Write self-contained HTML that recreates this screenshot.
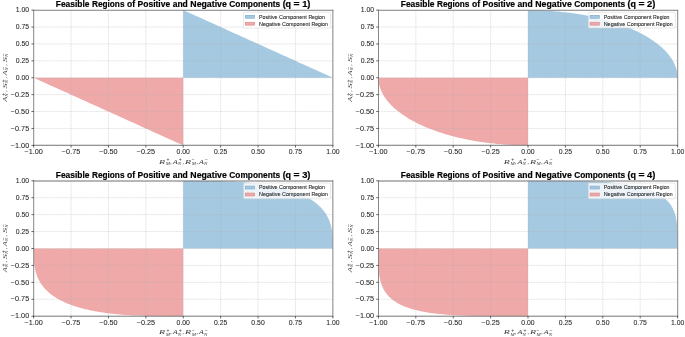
<!DOCTYPE html>
<html><head><meta charset="utf-8"><style>
html,body{margin:0;padding:0;background:#fff;width:685px;height:337px;overflow:hidden;}
svg{display:block;will-change:transform;}
</style></head><body>
<svg width="685" height="337" viewBox="0 0 685 337"><rect width="685" height="337" fill="#fff"/><polygon points="183.2,77.8 183.2,10.2 183.3,10.2 183.4,10.2 183.7,10.3 184.0,10.5 184.4,10.7 184.9,10.9 185.5,11.2 186.1,11.5 186.9,11.8 187.8,12.2 188.7,12.6 189.7,13.1 190.8,13.6 192.0,14.1 193.3,14.7 194.6,15.3 196.0,15.9 197.5,16.6 199.1,17.3 200.7,18.1 202.5,18.8 204.2,19.6 206.1,20.5 208.0,21.3 210.0,22.2 212.0,23.1 214.1,24.1 216.2,25.0 218.4,26.0 220.7,27.0 222.9,28.1 225.3,29.1 227.6,30.2 230.0,31.3 232.5,32.4 234.9,33.5 237.4,34.6 240.0,35.8 242.5,36.9 245.1,38.1 247.6,39.2 250.2,40.4 252.8,41.6 255.4,42.8 258.1,43.9 260.7,45.1 263.3,46.3 265.9,47.5 268.5,48.7 271.0,49.8 273.6,51.0 276.1,52.1 278.7,53.3 281.2,54.4 283.6,55.5 286.1,56.6 288.5,57.7 290.8,58.8 293.2,59.8 295.4,60.8 297.7,61.9 299.9,62.9 302.0,63.8 304.1,64.8 306.1,65.7 308.1,66.6 310.0,67.4 311.9,68.3 313.6,69.1 315.4,69.8 317.0,70.6 318.6,71.3 320.1,72.0 321.5,72.6 322.8,73.2 324.1,73.8 325.3,74.3 326.4,74.8 327.4,75.3 328.3,75.7 329.2,76.1 330.0,76.4 330.6,76.7 331.2,77.0 331.7,77.2 332.1,77.4 332.4,77.6 332.7,77.7 332.8,77.7 332.9,77.8" fill="#a5c9e1"/><polygon points="183.2,77.8 183.2,145.3 183.2,145.3 183.1,145.3 182.8,145.2 182.5,145.0 182.1,144.8 181.6,144.6 181.0,144.3 180.4,144.0 179.6,143.7 178.7,143.3 177.8,142.9 176.8,142.4 175.7,141.9 174.5,141.4 173.2,140.8 171.9,140.2 170.5,139.6 169.0,138.9 167.4,138.2 165.8,137.4 164.0,136.7 162.3,135.9 160.4,135.0 158.5,134.2 156.5,133.3 154.5,132.4 152.4,131.4 150.3,130.5 148.1,129.5 145.8,128.4 143.6,127.4 141.2,126.4 138.9,125.3 136.5,124.2 134.0,123.1 131.6,122.0 129.1,120.9 126.5,119.7 124.0,118.6 121.4,117.4 118.9,116.3 116.3,115.1 113.7,113.9 111.1,112.7 108.5,111.6 105.8,110.4 103.2,109.2 100.6,108.0 98.0,106.8 95.5,105.7 92.9,104.5 90.4,103.4 87.8,102.2 85.3,101.1 82.9,100.0 80.4,98.9 78.0,97.8 75.7,96.7 73.3,95.7 71.0,94.7 68.8,93.6 66.6,92.6 64.5,91.7 62.4,90.7 60.4,89.8 58.4,88.9 56.5,88.1 54.6,87.2 52.9,86.4 51.1,85.7 49.5,84.9 47.9,84.2 46.4,83.5 45.0,82.9 43.7,82.3 42.4,81.7 41.2,81.2 40.1,80.7 39.1,80.2 38.2,79.8 37.3,79.4 36.5,79.1 35.9,78.8 35.3,78.5 34.8,78.3 34.4,78.1 34.1,77.9 33.8,77.8 33.7,77.8 33.6,77.8" fill="#efa9a9"/><g stroke="#b0b0b0" stroke-opacity="0.7" stroke-width="0.5" stroke-dasharray="1.7,0.8"><line x1="33.65" y1="10.15" x2="33.65" y2="145.35"/><line x1="33.65" y1="145.35" x2="332.85" y2="145.35"/><line x1="71.05" y1="10.15" x2="71.05" y2="145.35"/><line x1="33.65" y1="128.45" x2="332.85" y2="128.45"/><line x1="108.45" y1="10.15" x2="108.45" y2="145.35"/><line x1="33.65" y1="111.55" x2="332.85" y2="111.55"/><line x1="145.85" y1="10.15" x2="145.85" y2="145.35"/><line x1="33.65" y1="94.65" x2="332.85" y2="94.65"/><line x1="183.25" y1="10.15" x2="183.25" y2="145.35"/><line x1="33.65" y1="77.75" x2="332.85" y2="77.75"/><line x1="220.65" y1="10.15" x2="220.65" y2="145.35"/><line x1="33.65" y1="60.85" x2="332.85" y2="60.85"/><line x1="258.05" y1="10.15" x2="258.05" y2="145.35"/><line x1="33.65" y1="43.95" x2="332.85" y2="43.95"/><line x1="295.45" y1="10.15" x2="295.45" y2="145.35"/><line x1="33.65" y1="27.05" x2="332.85" y2="27.05"/><line x1="332.85" y1="10.15" x2="332.85" y2="145.35"/><line x1="33.65" y1="10.15" x2="332.85" y2="10.15"/></g><line x1="33.674" y1="9.800" x2="33.674" y2="145.780" stroke="#8c8c8c" stroke-width="1"/><line x1="332.848" y1="9.800" x2="332.848" y2="145.780" stroke="#8c8c8c" stroke-width="1"/><line x1="33.174" y1="10.300" x2="333.348" y2="10.300" stroke="#888888" stroke-width="1"/><line x1="33.174" y1="145.280" x2="333.348" y2="145.280" stroke="#787878" stroke-width="1"/><g stroke="#000000" stroke-width="0.6"><line x1="33.65" y1="145.35" x2="33.65" y2="147.55"/><line x1="31.45" y1="145.35" x2="33.65" y2="145.35"/><line x1="71.05" y1="145.35" x2="71.05" y2="147.55"/><line x1="31.45" y1="128.45" x2="33.65" y2="128.45"/><line x1="108.45" y1="145.35" x2="108.45" y2="147.55"/><line x1="31.45" y1="111.55" x2="33.65" y2="111.55"/><line x1="145.85" y1="145.35" x2="145.85" y2="147.55"/><line x1="31.45" y1="94.65" x2="33.65" y2="94.65"/><line x1="183.25" y1="145.35" x2="183.25" y2="147.55"/><line x1="31.45" y1="77.75" x2="33.65" y2="77.75"/><line x1="220.65" y1="145.35" x2="220.65" y2="147.55"/><line x1="31.45" y1="60.85" x2="33.65" y2="60.85"/><line x1="258.05" y1="145.35" x2="258.05" y2="147.55"/><line x1="31.45" y1="43.95" x2="33.65" y2="43.95"/><line x1="295.45" y1="145.35" x2="295.45" y2="147.55"/><line x1="31.45" y1="27.05" x2="33.65" y2="27.05"/><line x1="332.85" y1="145.35" x2="332.85" y2="147.55"/><line x1="31.45" y1="10.15" x2="33.65" y2="10.15"/></g><g font-family='"Liberation Sans", sans-serif' font-size="6.6" fill="#262626" stroke="#262626" stroke-width="0.06"><text x="33.65" y="154.25" text-anchor="middle" textLength="18.38" lengthAdjust="spacingAndGlyphs">−1.00</text><text x="29.20" y="147.50" text-anchor="end" textLength="18.38" lengthAdjust="spacingAndGlyphs">−1.00</text><text x="71.05" y="154.25" text-anchor="middle" textLength="18.38" lengthAdjust="spacingAndGlyphs">−0.75</text><text x="29.20" y="130.60" text-anchor="end" textLength="18.38" lengthAdjust="spacingAndGlyphs">−0.75</text><text x="108.45" y="154.25" text-anchor="middle" textLength="18.38" lengthAdjust="spacingAndGlyphs">−0.50</text><text x="29.20" y="113.70" text-anchor="end" textLength="18.38" lengthAdjust="spacingAndGlyphs">−0.50</text><text x="145.85" y="154.25" text-anchor="middle" textLength="18.38" lengthAdjust="spacingAndGlyphs">−0.25</text><text x="29.20" y="96.80" text-anchor="end" textLength="18.38" lengthAdjust="spacingAndGlyphs">−0.25</text><text x="183.25" y="154.25" text-anchor="middle" textLength="13.36" lengthAdjust="spacingAndGlyphs">0.00</text><text x="29.20" y="79.90" text-anchor="end" textLength="13.36" lengthAdjust="spacingAndGlyphs">0.00</text><text x="220.65" y="154.25" text-anchor="middle" textLength="13.36" lengthAdjust="spacingAndGlyphs">0.25</text><text x="29.20" y="63.00" text-anchor="end" textLength="13.36" lengthAdjust="spacingAndGlyphs">0.25</text><text x="258.05" y="154.25" text-anchor="middle" textLength="13.36" lengthAdjust="spacingAndGlyphs">0.50</text><text x="29.20" y="46.10" text-anchor="end" textLength="13.36" lengthAdjust="spacingAndGlyphs">0.50</text><text x="295.45" y="154.25" text-anchor="middle" textLength="13.36" lengthAdjust="spacingAndGlyphs">0.75</text><text x="29.20" y="29.20" text-anchor="end" textLength="13.36" lengthAdjust="spacingAndGlyphs">0.75</text><text x="332.85" y="154.25" text-anchor="middle" textLength="13.36" lengthAdjust="spacingAndGlyphs">1.00</text><text x="29.20" y="12.30" text-anchor="end" textLength="13.36" lengthAdjust="spacingAndGlyphs">1.00</text></g><g font-family='"Liberation Sans", sans-serif' font-weight="bold" font-size="8.3" fill="#000" stroke="#000" stroke-width="0.18"><text x="55.80" y="7.00" textLength="33.7" lengthAdjust="spacingAndGlyphs">Feasible</text><text x="92.01" y="7.00" textLength="32.48" lengthAdjust="spacingAndGlyphs">Regions</text><text x="127.00" y="7.00" textLength="8.1" lengthAdjust="spacingAndGlyphs">of</text><text x="137.61" y="7.00" textLength="32.53" lengthAdjust="spacingAndGlyphs">Positive</text><text x="172.65" y="7.00" textLength="15.17" lengthAdjust="spacingAndGlyphs">and</text><text x="190.34" y="7.00" textLength="36.49" lengthAdjust="spacingAndGlyphs">Negative</text><text x="229.33" y="7.00" textLength="50.8" lengthAdjust="spacingAndGlyphs">Components</text><text x="282.65" y="7.00" textLength="8.46" lengthAdjust="spacingAndGlyphs">(q</text><text x="293.62" y="7.00" textLength="6.05" lengthAdjust="spacingAndGlyphs">=</text><text x="302.18" y="7.00" textLength="8.32" lengthAdjust="spacingAndGlyphs">1)</text></g><g transform="translate(159.00,163.50)" font-family='"Liberation Serif", serif' font-style="italic" fill="#3a3a3a"><text x="0.00" y="0" font-size="6.8" textLength="6.0" lengthAdjust="spacingAndGlyphs">R</text><text x="7.40" y="-2.5" font-size="5.0" font-style="normal" font-family='"Liberation Sans", sans-serif'>+</text><text x="6.70" y="1.3" font-size="5.0">M</text><text x="11.20" y="0" font-size="5.44">,</text><text x="13.80" y="0" font-size="6.8" textLength="5.0" lengthAdjust="spacingAndGlyphs">A</text><text x="19.70" y="-2.5" font-size="5.0" font-style="normal" font-family='"Liberation Sans", sans-serif'>+</text><text x="18.80" y="1.3" font-size="5.0">N</text><text x="23.60" y="0" font-size="5.44">,</text><text x="26.10" y="0" font-size="6.8" textLength="6.0" lengthAdjust="spacingAndGlyphs">R</text><text x="32.80" y="-2.5" font-size="5.0" font-style="normal" font-family='"Liberation Sans", sans-serif'>−</text><text x="32.80" y="1.3" font-size="5.0">M</text><text x="37.50" y="0" font-size="5.44">,</text><text x="39.90" y="0" font-size="6.8" textLength="4.8" lengthAdjust="spacingAndGlyphs">A</text><text x="45.90" y="-2.5" font-size="5.0" font-style="normal" font-family='"Liberation Sans", sans-serif'>−</text><text x="44.90" y="1.3" font-size="5.0">N</text></g><g transform="translate(7.10,101.65) rotate(-90)" font-family='"Liberation Serif", serif' font-style="italic" fill="#3a3a3a"><text x="0.00" y="0" font-size="6.8" textLength="5.0" lengthAdjust="spacingAndGlyphs">A</text><text x="5.90" y="-2.5" font-size="5.0" font-style="normal" font-family='"Liberation Sans", sans-serif'>+</text><text x="5.00" y="1.3" font-size="5.0">N</text><text x="9.80" y="0" font-size="5.44">,</text><text x="13.10" y="0" font-size="6.8" textLength="5.3" lengthAdjust="spacingAndGlyphs">S</text><text x="19.10" y="-2.5" font-size="5.0" font-style="normal" font-family='"Liberation Sans", sans-serif'>+</text><text x="18.40" y="1.3" font-size="5.0">N</text><text x="23.10" y="0" font-size="5.44">,</text><text x="26.10" y="0" font-size="6.8" textLength="5.0" lengthAdjust="spacingAndGlyphs">A</text><text x="32.10" y="-2.5" font-size="5.0" font-style="normal" font-family='"Liberation Sans", sans-serif'>−</text><text x="31.10" y="1.3" font-size="5.0">N</text><text x="35.90" y="0" font-size="5.44">,</text><text x="39.30" y="0" font-size="6.8" textLength="5.3" lengthAdjust="spacingAndGlyphs">S</text><text x="45.30" y="-2.5" font-size="5.0" font-style="normal" font-family='"Liberation Sans", sans-serif'>−</text><text x="44.60" y="1.3" font-size="5.0">N</text></g><rect x="243.60" y="12.25" width="87.0" height="15.8" rx="1.2" fill="#fff" fill-opacity="0.8" stroke="#d0d0d0" stroke-width="0.5"/><rect x="245.40" y="15.30" width="9.2" height="2.9" fill="#a5c9e1" stroke="#7aa6c8" stroke-width="0.6"/><rect x="245.40" y="22.25" width="9.2" height="2.9" fill="#efa9a9" stroke="#d98587" stroke-width="0.6"/><g font-family='"Liberation Sans", sans-serif' font-size="5.2" fill="#222" stroke="#222" stroke-width="0.08"><text x="259.00" y="18.55" textLength="18.49" lengthAdjust="spacingAndGlyphs">Positive</text><text x="279.01" y="18.55" textLength="27.84" lengthAdjust="spacingAndGlyphs">Component</text><text x="308.38" y="18.55" textLength="16.42" lengthAdjust="spacingAndGlyphs">Region</text><text x="259.00" y="25.65" textLength="21.52" lengthAdjust="spacingAndGlyphs">Negative</text><text x="282.05" y="25.65" textLength="27.84" lengthAdjust="spacingAndGlyphs">Component</text><text x="311.42" y="25.65" textLength="16.42" lengthAdjust="spacingAndGlyphs">Region</text></g><polygon points="528.0,77.8 528.0,10.2 530.6,10.2 533.2,10.2 535.8,10.2 538.4,10.3 541.0,10.4 543.6,10.5 546.2,10.7 548.8,10.8 551.4,11.0 554.0,11.2 556.5,11.4 559.1,11.6 561.7,11.9 564.2,12.2 566.7,12.5 569.2,12.8 571.7,13.1 574.2,13.5 576.7,13.8 579.2,14.2 581.6,14.6 584.0,15.1 586.5,15.5 588.8,16.0 591.2,16.5 593.6,17.0 595.9,17.5 598.2,18.1 600.5,18.6 602.8,19.2 605.0,19.8 607.3,20.4 609.5,21.1 611.7,21.7 613.8,22.4 615.9,23.1 618.0,23.8 620.1,24.5 622.1,25.2 624.2,26.0 626.1,26.7 628.1,27.5 630.0,28.3 631.9,29.1 633.8,29.9 635.6,30.8 637.4,31.6 639.2,32.5 640.9,33.4 642.6,34.3 644.3,35.2 645.9,36.1 647.5,37.1 649.0,38.0 650.5,39.0 652.0,39.9 653.5,40.9 654.9,41.9 656.2,42.9 657.6,43.9 658.8,45.0 660.1,46.0 661.3,47.1 662.5,48.1 663.6,49.2 664.7,50.3 665.7,51.3 666.7,52.4 667.7,53.5 668.6,54.6 669.4,55.7 670.3,56.9 671.1,58.0 671.8,59.1 672.5,60.3 673.2,61.4 673.8,62.5 674.3,63.7 674.9,64.9 675.3,66.0 675.8,67.2 676.1,68.3 676.5,69.5 676.8,70.7 677.0,71.9 677.2,73.0 677.4,74.2 677.5,75.4 677.6,76.6 677.6,77.8" fill="#a5c9e1"/><polygon points="528.0,77.8 528.0,145.3 525.4,145.3 522.8,145.3 520.2,145.3 517.6,145.2 515.0,145.1 512.4,145.0 509.8,144.8 507.2,144.7 504.6,144.5 502.0,144.3 499.5,144.1 496.9,143.9 494.3,143.6 491.8,143.3 489.3,143.0 486.8,142.7 484.3,142.4 481.8,142.0 479.3,141.7 476.8,141.3 474.4,140.9 472.0,140.4 469.5,140.0 467.2,139.5 464.8,139.0 462.4,138.5 460.1,138.0 457.8,137.4 455.5,136.9 453.2,136.3 451.0,135.7 448.7,135.1 446.5,134.4 444.3,133.8 442.2,133.1 440.1,132.4 438.0,131.7 435.9,131.0 433.9,130.3 431.8,129.5 429.9,128.8 427.9,128.0 426.0,127.2 424.1,126.4 422.2,125.6 420.4,124.7 418.6,123.9 416.8,123.0 415.1,122.1 413.4,121.2 411.7,120.3 410.1,119.4 408.5,118.4 407.0,117.5 405.5,116.5 404.0,115.6 402.5,114.6 401.1,113.6 399.8,112.6 398.4,111.6 397.2,110.5 395.9,109.5 394.7,108.4 393.5,107.4 392.4,106.3 391.3,105.2 390.3,104.2 389.3,103.1 388.3,102.0 387.4,100.9 386.6,99.8 385.7,98.6 384.9,97.5 384.2,96.4 383.5,95.2 382.8,94.1 382.2,93.0 381.7,91.8 381.1,90.6 380.7,89.5 380.2,88.3 379.9,87.2 379.5,86.0 379.2,84.8 379.0,83.6 378.8,82.5 378.6,81.3 378.5,80.1 378.4,78.9 378.4,77.8" fill="#efa9a9"/><g stroke="#b0b0b0" stroke-opacity="0.7" stroke-width="0.5" stroke-dasharray="1.7,0.8"><line x1="378.40" y1="10.15" x2="378.40" y2="145.35"/><line x1="378.40" y1="145.35" x2="677.60" y2="145.35"/><line x1="415.80" y1="10.15" x2="415.80" y2="145.35"/><line x1="378.40" y1="128.45" x2="677.60" y2="128.45"/><line x1="453.20" y1="10.15" x2="453.20" y2="145.35"/><line x1="378.40" y1="111.55" x2="677.60" y2="111.55"/><line x1="490.60" y1="10.15" x2="490.60" y2="145.35"/><line x1="378.40" y1="94.65" x2="677.60" y2="94.65"/><line x1="528.00" y1="10.15" x2="528.00" y2="145.35"/><line x1="378.40" y1="77.75" x2="677.60" y2="77.75"/><line x1="565.40" y1="10.15" x2="565.40" y2="145.35"/><line x1="378.40" y1="60.85" x2="677.60" y2="60.85"/><line x1="602.80" y1="10.15" x2="602.80" y2="145.35"/><line x1="378.40" y1="43.95" x2="677.60" y2="43.95"/><line x1="640.20" y1="10.15" x2="640.20" y2="145.35"/><line x1="378.40" y1="27.05" x2="677.60" y2="27.05"/><line x1="677.60" y1="10.15" x2="677.60" y2="145.35"/><line x1="378.40" y1="10.15" x2="677.60" y2="10.15"/></g><line x1="378.500" y1="9.800" x2="378.500" y2="145.780" stroke="#878787" stroke-width="1"/><line x1="677.674" y1="9.800" x2="677.674" y2="145.780" stroke="#8c8c8c" stroke-width="1"/><line x1="378.000" y1="10.300" x2="678.174" y2="10.300" stroke="#888888" stroke-width="1"/><line x1="378.000" y1="145.280" x2="678.174" y2="145.280" stroke="#787878" stroke-width="1"/><g stroke="#000000" stroke-width="0.6"><line x1="378.40" y1="145.35" x2="378.40" y2="147.55"/><line x1="376.20" y1="145.35" x2="378.40" y2="145.35"/><line x1="415.80" y1="145.35" x2="415.80" y2="147.55"/><line x1="376.20" y1="128.45" x2="378.40" y2="128.45"/><line x1="453.20" y1="145.35" x2="453.20" y2="147.55"/><line x1="376.20" y1="111.55" x2="378.40" y2="111.55"/><line x1="490.60" y1="145.35" x2="490.60" y2="147.55"/><line x1="376.20" y1="94.65" x2="378.40" y2="94.65"/><line x1="528.00" y1="145.35" x2="528.00" y2="147.55"/><line x1="376.20" y1="77.75" x2="378.40" y2="77.75"/><line x1="565.40" y1="145.35" x2="565.40" y2="147.55"/><line x1="376.20" y1="60.85" x2="378.40" y2="60.85"/><line x1="602.80" y1="145.35" x2="602.80" y2="147.55"/><line x1="376.20" y1="43.95" x2="378.40" y2="43.95"/><line x1="640.20" y1="145.35" x2="640.20" y2="147.55"/><line x1="376.20" y1="27.05" x2="378.40" y2="27.05"/><line x1="677.60" y1="145.35" x2="677.60" y2="147.55"/><line x1="376.20" y1="10.15" x2="378.40" y2="10.15"/></g><g font-family='"Liberation Sans", sans-serif' font-size="6.6" fill="#262626" stroke="#262626" stroke-width="0.06"><text x="378.40" y="154.25" text-anchor="middle" textLength="18.38" lengthAdjust="spacingAndGlyphs">−1.00</text><text x="374.10" y="147.50" text-anchor="end" textLength="18.38" lengthAdjust="spacingAndGlyphs">−1.00</text><text x="415.80" y="154.25" text-anchor="middle" textLength="18.38" lengthAdjust="spacingAndGlyphs">−0.75</text><text x="374.10" y="130.60" text-anchor="end" textLength="18.38" lengthAdjust="spacingAndGlyphs">−0.75</text><text x="453.20" y="154.25" text-anchor="middle" textLength="18.38" lengthAdjust="spacingAndGlyphs">−0.50</text><text x="374.10" y="113.70" text-anchor="end" textLength="18.38" lengthAdjust="spacingAndGlyphs">−0.50</text><text x="490.60" y="154.25" text-anchor="middle" textLength="18.38" lengthAdjust="spacingAndGlyphs">−0.25</text><text x="374.10" y="96.80" text-anchor="end" textLength="18.38" lengthAdjust="spacingAndGlyphs">−0.25</text><text x="528.00" y="154.25" text-anchor="middle" textLength="13.36" lengthAdjust="spacingAndGlyphs">0.00</text><text x="374.10" y="79.90" text-anchor="end" textLength="13.36" lengthAdjust="spacingAndGlyphs">0.00</text><text x="565.40" y="154.25" text-anchor="middle" textLength="13.36" lengthAdjust="spacingAndGlyphs">0.25</text><text x="374.10" y="63.00" text-anchor="end" textLength="13.36" lengthAdjust="spacingAndGlyphs">0.25</text><text x="602.80" y="154.25" text-anchor="middle" textLength="13.36" lengthAdjust="spacingAndGlyphs">0.50</text><text x="374.10" y="46.10" text-anchor="end" textLength="13.36" lengthAdjust="spacingAndGlyphs">0.50</text><text x="640.20" y="154.25" text-anchor="middle" textLength="13.36" lengthAdjust="spacingAndGlyphs">0.75</text><text x="374.10" y="29.20" text-anchor="end" textLength="13.36" lengthAdjust="spacingAndGlyphs">0.75</text><text x="677.60" y="154.25" text-anchor="middle" textLength="13.36" lengthAdjust="spacingAndGlyphs">1.00</text><text x="374.10" y="12.30" text-anchor="end" textLength="13.36" lengthAdjust="spacingAndGlyphs">1.00</text></g><g font-family='"Liberation Sans", sans-serif' font-weight="bold" font-size="8.3" fill="#000" stroke="#000" stroke-width="0.18"><text x="400.75" y="7.00" textLength="33.7" lengthAdjust="spacingAndGlyphs">Feasible</text><text x="436.96" y="7.00" textLength="32.48" lengthAdjust="spacingAndGlyphs">Regions</text><text x="471.95" y="7.00" textLength="8.1" lengthAdjust="spacingAndGlyphs">of</text><text x="482.56" y="7.00" textLength="32.53" lengthAdjust="spacingAndGlyphs">Positive</text><text x="517.60" y="7.00" textLength="15.17" lengthAdjust="spacingAndGlyphs">and</text><text x="535.29" y="7.00" textLength="36.49" lengthAdjust="spacingAndGlyphs">Negative</text><text x="574.28" y="7.00" textLength="50.8" lengthAdjust="spacingAndGlyphs">Components</text><text x="627.60" y="7.00" textLength="8.46" lengthAdjust="spacingAndGlyphs">(q</text><text x="638.57" y="7.00" textLength="6.05" lengthAdjust="spacingAndGlyphs">=</text><text x="647.13" y="7.00" textLength="8.32" lengthAdjust="spacingAndGlyphs">2)</text></g><g transform="translate(503.80,163.50)" font-family='"Liberation Serif", serif' font-style="italic" fill="#3a3a3a"><text x="0.00" y="0" font-size="6.8" textLength="6.0" lengthAdjust="spacingAndGlyphs">R</text><text x="7.40" y="-2.5" font-size="5.0" font-style="normal" font-family='"Liberation Sans", sans-serif'>+</text><text x="6.70" y="1.3" font-size="5.0">M</text><text x="11.20" y="0" font-size="5.44">,</text><text x="13.80" y="0" font-size="6.8" textLength="5.0" lengthAdjust="spacingAndGlyphs">A</text><text x="19.70" y="-2.5" font-size="5.0" font-style="normal" font-family='"Liberation Sans", sans-serif'>+</text><text x="18.80" y="1.3" font-size="5.0">N</text><text x="23.60" y="0" font-size="5.44">,</text><text x="26.10" y="0" font-size="6.8" textLength="6.0" lengthAdjust="spacingAndGlyphs">R</text><text x="32.80" y="-2.5" font-size="5.0" font-style="normal" font-family='"Liberation Sans", sans-serif'>−</text><text x="32.80" y="1.3" font-size="5.0">M</text><text x="37.50" y="0" font-size="5.44">,</text><text x="39.90" y="0" font-size="6.8" textLength="4.8" lengthAdjust="spacingAndGlyphs">A</text><text x="45.90" y="-2.5" font-size="5.0" font-style="normal" font-family='"Liberation Sans", sans-serif'>−</text><text x="44.90" y="1.3" font-size="5.0">N</text></g><g transform="translate(352.00,101.65) rotate(-90)" font-family='"Liberation Serif", serif' font-style="italic" fill="#3a3a3a"><text x="0.00" y="0" font-size="6.8" textLength="5.0" lengthAdjust="spacingAndGlyphs">A</text><text x="5.90" y="-2.5" font-size="5.0" font-style="normal" font-family='"Liberation Sans", sans-serif'>+</text><text x="5.00" y="1.3" font-size="5.0">N</text><text x="9.80" y="0" font-size="5.44">,</text><text x="13.10" y="0" font-size="6.8" textLength="5.3" lengthAdjust="spacingAndGlyphs">S</text><text x="19.10" y="-2.5" font-size="5.0" font-style="normal" font-family='"Liberation Sans", sans-serif'>+</text><text x="18.40" y="1.3" font-size="5.0">N</text><text x="23.10" y="0" font-size="5.44">,</text><text x="26.10" y="0" font-size="6.8" textLength="5.0" lengthAdjust="spacingAndGlyphs">A</text><text x="32.10" y="-2.5" font-size="5.0" font-style="normal" font-family='"Liberation Sans", sans-serif'>−</text><text x="31.10" y="1.3" font-size="5.0">N</text><text x="35.90" y="0" font-size="5.44">,</text><text x="39.30" y="0" font-size="6.8" textLength="5.3" lengthAdjust="spacingAndGlyphs">S</text><text x="45.30" y="-2.5" font-size="5.0" font-style="normal" font-family='"Liberation Sans", sans-serif'>−</text><text x="44.60" y="1.3" font-size="5.0">N</text></g><rect x="588.30" y="12.25" width="87.0" height="15.8" rx="1.2" fill="#fff" fill-opacity="0.8" stroke="#d0d0d0" stroke-width="0.5"/><rect x="590.10" y="15.30" width="9.2" height="2.9" fill="#a5c9e1" stroke="#7aa6c8" stroke-width="0.6"/><rect x="590.10" y="22.25" width="9.2" height="2.9" fill="#efa9a9" stroke="#d98587" stroke-width="0.6"/><g font-family='"Liberation Sans", sans-serif' font-size="5.2" fill="#222" stroke="#222" stroke-width="0.08"><text x="603.70" y="18.55" textLength="18.49" lengthAdjust="spacingAndGlyphs">Positive</text><text x="623.71" y="18.55" textLength="27.84" lengthAdjust="spacingAndGlyphs">Component</text><text x="653.08" y="18.55" textLength="16.42" lengthAdjust="spacingAndGlyphs">Region</text><text x="603.70" y="25.65" textLength="21.52" lengthAdjust="spacingAndGlyphs">Negative</text><text x="626.75" y="25.65" textLength="27.84" lengthAdjust="spacingAndGlyphs">Component</text><text x="656.12" y="25.65" textLength="16.42" lengthAdjust="spacingAndGlyphs">Region</text></g><polygon points="183.2,248.5 183.2,180.8 193.3,180.8 199.2,180.8 204.2,180.9 208.6,180.9 212.7,181.0 216.4,181.0 220.0,181.1 223.4,181.2 226.7,181.4 229.8,181.5 232.8,181.6 235.8,181.8 238.6,182.0 241.3,182.1 244.0,182.3 246.6,182.6 249.2,182.8 251.6,183.0 254.0,183.3 256.4,183.5 258.7,183.8 261.0,184.1 263.2,184.4 265.4,184.8 267.5,185.1 269.6,185.4 271.6,185.8 273.6,186.2 275.6,186.6 277.5,187.0 279.4,187.4 281.2,187.8 283.0,188.3 284.8,188.8 286.5,189.2 288.2,189.7 289.9,190.2 291.5,190.7 293.1,191.3 294.7,191.8 296.2,192.4 297.7,193.0 299.2,193.5 300.6,194.1 302.0,194.8 303.4,195.4 304.7,196.0 306.0,196.7 307.3,197.4 308.5,198.1 309.7,198.8 310.9,199.5 312.0,200.2 313.1,201.0 314.2,201.8 315.3,202.5 316.3,203.3 317.3,204.2 318.2,205.0 319.2,205.9 320.1,206.7 320.9,207.6 321.8,208.5 322.6,209.4 323.4,210.4 324.1,211.3 324.8,212.3 325.5,213.3 326.2,214.3 326.8,215.4 327.4,216.5 327.9,217.6 328.5,218.7 329.0,219.8 329.4,221.0 329.9,222.2 330.3,223.5 330.7,224.7 331.0,226.1 331.3,227.4 331.6,228.8 331.9,230.3 332.1,231.9 332.3,233.5 332.5,235.2 332.6,237.0 332.7,239.0 332.8,241.3 332.8,243.9 332.9,248.5" fill="#a5c9e1"/><polygon points="183.2,248.5 183.2,316.2 173.2,316.2 167.3,316.2 162.3,316.1 157.9,316.1 153.8,316.0 150.1,316.0 146.5,315.9 143.1,315.8 139.8,315.6 136.7,315.5 133.7,315.4 130.7,315.2 127.9,315.0 125.2,314.9 122.5,314.7 119.9,314.4 117.3,314.2 114.9,314.0 112.5,313.7 110.1,313.5 107.8,313.2 105.5,312.9 103.3,312.6 101.1,312.2 99.0,311.9 96.9,311.6 94.9,311.2 92.9,310.8 90.9,310.4 89.0,310.0 87.1,309.6 85.3,309.2 83.5,308.7 81.7,308.2 80.0,307.8 78.3,307.3 76.6,306.8 75.0,306.3 73.4,305.7 71.8,305.2 70.3,304.6 68.8,304.0 67.3,303.5 65.9,302.9 64.5,302.2 63.1,301.6 61.8,301.0 60.5,300.3 59.2,299.6 58.0,298.9 56.8,298.2 55.6,297.5 54.5,296.8 53.4,296.0 52.3,295.2 51.2,294.5 50.2,293.7 49.2,292.8 48.3,292.0 47.3,291.1 46.4,290.3 45.6,289.4 44.7,288.5 43.9,287.6 43.1,286.6 42.4,285.7 41.7,284.7 41.0,283.7 40.3,282.7 39.7,281.6 39.1,280.5 38.6,279.4 38.0,278.3 37.5,277.2 37.1,276.0 36.6,274.8 36.2,273.5 35.8,272.3 35.5,270.9 35.2,269.6 34.9,268.2 34.6,266.7 34.4,265.1 34.2,263.5 34.0,261.8 33.9,260.0 33.8,258.0 33.7,255.7 33.7,253.1 33.6,248.5" fill="#efa9a9"/><g stroke="#b0b0b0" stroke-opacity="0.7" stroke-width="0.5" stroke-dasharray="1.7,0.8"><line x1="33.65" y1="180.80" x2="33.65" y2="316.20"/><line x1="33.65" y1="316.20" x2="332.85" y2="316.20"/><line x1="71.05" y1="180.80" x2="71.05" y2="316.20"/><line x1="33.65" y1="299.27" x2="332.85" y2="299.27"/><line x1="108.45" y1="180.80" x2="108.45" y2="316.20"/><line x1="33.65" y1="282.35" x2="332.85" y2="282.35"/><line x1="145.85" y1="180.80" x2="145.85" y2="316.20"/><line x1="33.65" y1="265.43" x2="332.85" y2="265.43"/><line x1="183.25" y1="180.80" x2="183.25" y2="316.20"/><line x1="33.65" y1="248.50" x2="332.85" y2="248.50"/><line x1="220.65" y1="180.80" x2="220.65" y2="316.20"/><line x1="33.65" y1="231.57" x2="332.85" y2="231.57"/><line x1="258.05" y1="180.80" x2="258.05" y2="316.20"/><line x1="33.65" y1="214.65" x2="332.85" y2="214.65"/><line x1="295.45" y1="180.80" x2="295.45" y2="316.20"/><line x1="33.65" y1="197.73" x2="332.85" y2="197.73"/><line x1="332.85" y1="180.80" x2="332.85" y2="316.20"/><line x1="33.65" y1="180.80" x2="332.85" y2="180.80"/></g><line x1="33.674" y1="180.520" x2="33.674" y2="316.690" stroke="#8c8c8c" stroke-width="1"/><line x1="332.848" y1="180.520" x2="332.848" y2="316.690" stroke="#8c8c8c" stroke-width="1"/><line x1="33.174" y1="181.020" x2="333.348" y2="181.020" stroke="#787878" stroke-width="1"/><line x1="33.174" y1="316.190" x2="333.348" y2="316.190" stroke="#7d7d7d" stroke-width="1"/><g stroke="#000000" stroke-width="0.6"><line x1="33.65" y1="316.20" x2="33.65" y2="318.40"/><line x1="31.45" y1="316.20" x2="33.65" y2="316.20"/><line x1="71.05" y1="316.20" x2="71.05" y2="318.40"/><line x1="31.45" y1="299.27" x2="33.65" y2="299.27"/><line x1="108.45" y1="316.20" x2="108.45" y2="318.40"/><line x1="31.45" y1="282.35" x2="33.65" y2="282.35"/><line x1="145.85" y1="316.20" x2="145.85" y2="318.40"/><line x1="31.45" y1="265.43" x2="33.65" y2="265.43"/><line x1="183.25" y1="316.20" x2="183.25" y2="318.40"/><line x1="31.45" y1="248.50" x2="33.65" y2="248.50"/><line x1="220.65" y1="316.20" x2="220.65" y2="318.40"/><line x1="31.45" y1="231.57" x2="33.65" y2="231.57"/><line x1="258.05" y1="316.20" x2="258.05" y2="318.40"/><line x1="31.45" y1="214.65" x2="33.65" y2="214.65"/><line x1="295.45" y1="316.20" x2="295.45" y2="318.40"/><line x1="31.45" y1="197.73" x2="33.65" y2="197.73"/><line x1="332.85" y1="316.20" x2="332.85" y2="318.40"/><line x1="31.45" y1="180.80" x2="33.65" y2="180.80"/></g><g font-family='"Liberation Sans", sans-serif' font-size="6.6" fill="#262626" stroke="#262626" stroke-width="0.06"><text x="33.65" y="325.15" text-anchor="middle" textLength="18.38" lengthAdjust="spacingAndGlyphs">−1.00</text><text x="29.20" y="318.35" text-anchor="end" textLength="18.38" lengthAdjust="spacingAndGlyphs">−1.00</text><text x="71.05" y="325.15" text-anchor="middle" textLength="18.38" lengthAdjust="spacingAndGlyphs">−0.75</text><text x="29.20" y="301.42" text-anchor="end" textLength="18.38" lengthAdjust="spacingAndGlyphs">−0.75</text><text x="108.45" y="325.15" text-anchor="middle" textLength="18.38" lengthAdjust="spacingAndGlyphs">−0.50</text><text x="29.20" y="284.50" text-anchor="end" textLength="18.38" lengthAdjust="spacingAndGlyphs">−0.50</text><text x="145.85" y="325.15" text-anchor="middle" textLength="18.38" lengthAdjust="spacingAndGlyphs">−0.25</text><text x="29.20" y="267.57" text-anchor="end" textLength="18.38" lengthAdjust="spacingAndGlyphs">−0.25</text><text x="183.25" y="325.15" text-anchor="middle" textLength="13.36" lengthAdjust="spacingAndGlyphs">0.00</text><text x="29.20" y="250.65" text-anchor="end" textLength="13.36" lengthAdjust="spacingAndGlyphs">0.00</text><text x="220.65" y="325.15" text-anchor="middle" textLength="13.36" lengthAdjust="spacingAndGlyphs">0.25</text><text x="29.20" y="233.72" text-anchor="end" textLength="13.36" lengthAdjust="spacingAndGlyphs">0.25</text><text x="258.05" y="325.15" text-anchor="middle" textLength="13.36" lengthAdjust="spacingAndGlyphs">0.50</text><text x="29.20" y="216.80" text-anchor="end" textLength="13.36" lengthAdjust="spacingAndGlyphs">0.50</text><text x="295.45" y="325.15" text-anchor="middle" textLength="13.36" lengthAdjust="spacingAndGlyphs">0.75</text><text x="29.20" y="199.88" text-anchor="end" textLength="13.36" lengthAdjust="spacingAndGlyphs">0.75</text><text x="332.85" y="325.15" text-anchor="middle" textLength="13.36" lengthAdjust="spacingAndGlyphs">1.00</text><text x="29.20" y="182.95" text-anchor="end" textLength="13.36" lengthAdjust="spacingAndGlyphs">1.00</text></g><g font-family='"Liberation Sans", sans-serif' font-weight="bold" font-size="8.3" fill="#000" stroke="#000" stroke-width="0.18"><text x="55.80" y="178.00" textLength="33.7" lengthAdjust="spacingAndGlyphs">Feasible</text><text x="92.01" y="178.00" textLength="32.48" lengthAdjust="spacingAndGlyphs">Regions</text><text x="127.00" y="178.00" textLength="8.1" lengthAdjust="spacingAndGlyphs">of</text><text x="137.61" y="178.00" textLength="32.53" lengthAdjust="spacingAndGlyphs">Positive</text><text x="172.65" y="178.00" textLength="15.17" lengthAdjust="spacingAndGlyphs">and</text><text x="190.34" y="178.00" textLength="36.49" lengthAdjust="spacingAndGlyphs">Negative</text><text x="229.33" y="178.00" textLength="50.8" lengthAdjust="spacingAndGlyphs">Components</text><text x="282.65" y="178.00" textLength="8.46" lengthAdjust="spacingAndGlyphs">(q</text><text x="293.62" y="178.00" textLength="6.05" lengthAdjust="spacingAndGlyphs">=</text><text x="302.18" y="178.00" textLength="8.32" lengthAdjust="spacingAndGlyphs">3)</text></g><g transform="translate(159.00,334.40)" font-family='"Liberation Serif", serif' font-style="italic" fill="#3a3a3a"><text x="0.00" y="0" font-size="6.8" textLength="6.0" lengthAdjust="spacingAndGlyphs">R</text><text x="7.40" y="-2.5" font-size="5.0" font-style="normal" font-family='"Liberation Sans", sans-serif'>+</text><text x="6.70" y="1.3" font-size="5.0">M</text><text x="11.20" y="0" font-size="5.44">,</text><text x="13.80" y="0" font-size="6.8" textLength="5.0" lengthAdjust="spacingAndGlyphs">A</text><text x="19.70" y="-2.5" font-size="5.0" font-style="normal" font-family='"Liberation Sans", sans-serif'>+</text><text x="18.80" y="1.3" font-size="5.0">N</text><text x="23.60" y="0" font-size="5.44">,</text><text x="26.10" y="0" font-size="6.8" textLength="6.0" lengthAdjust="spacingAndGlyphs">R</text><text x="32.80" y="-2.5" font-size="5.0" font-style="normal" font-family='"Liberation Sans", sans-serif'>−</text><text x="32.80" y="1.3" font-size="5.0">M</text><text x="37.50" y="0" font-size="5.44">,</text><text x="39.90" y="0" font-size="6.8" textLength="4.8" lengthAdjust="spacingAndGlyphs">A</text><text x="45.90" y="-2.5" font-size="5.0" font-style="normal" font-family='"Liberation Sans", sans-serif'>−</text><text x="44.90" y="1.3" font-size="5.0">N</text></g><g transform="translate(7.10,272.35) rotate(-90)" font-family='"Liberation Serif", serif' font-style="italic" fill="#3a3a3a"><text x="0.00" y="0" font-size="6.8" textLength="5.0" lengthAdjust="spacingAndGlyphs">A</text><text x="5.90" y="-2.5" font-size="5.0" font-style="normal" font-family='"Liberation Sans", sans-serif'>+</text><text x="5.00" y="1.3" font-size="5.0">N</text><text x="9.80" y="0" font-size="5.44">,</text><text x="13.10" y="0" font-size="6.8" textLength="5.3" lengthAdjust="spacingAndGlyphs">S</text><text x="19.10" y="-2.5" font-size="5.0" font-style="normal" font-family='"Liberation Sans", sans-serif'>+</text><text x="18.40" y="1.3" font-size="5.0">N</text><text x="23.10" y="0" font-size="5.44">,</text><text x="26.10" y="0" font-size="6.8" textLength="5.0" lengthAdjust="spacingAndGlyphs">A</text><text x="32.10" y="-2.5" font-size="5.0" font-style="normal" font-family='"Liberation Sans", sans-serif'>−</text><text x="31.10" y="1.3" font-size="5.0">N</text><text x="35.90" y="0" font-size="5.44">,</text><text x="39.30" y="0" font-size="6.8" textLength="5.3" lengthAdjust="spacingAndGlyphs">S</text><text x="45.30" y="-2.5" font-size="5.0" font-style="normal" font-family='"Liberation Sans", sans-serif'>−</text><text x="44.60" y="1.3" font-size="5.0">N</text></g><rect x="243.60" y="183.05" width="87.0" height="15.8" rx="1.2" fill="#fff" fill-opacity="0.8" stroke="#d0d0d0" stroke-width="0.5"/><rect x="245.40" y="186.10" width="9.2" height="2.9" fill="#a5c9e1" stroke="#7aa6c8" stroke-width="0.6"/><rect x="245.40" y="193.05" width="9.2" height="2.9" fill="#efa9a9" stroke="#d98587" stroke-width="0.6"/><g font-family='"Liberation Sans", sans-serif' font-size="5.2" fill="#222" stroke="#222" stroke-width="0.08"><text x="259.00" y="189.35" textLength="18.49" lengthAdjust="spacingAndGlyphs">Positive</text><text x="279.01" y="189.35" textLength="27.84" lengthAdjust="spacingAndGlyphs">Component</text><text x="308.38" y="189.35" textLength="16.42" lengthAdjust="spacingAndGlyphs">Region</text><text x="259.00" y="196.45" textLength="21.52" lengthAdjust="spacingAndGlyphs">Negative</text><text x="282.05" y="196.45" textLength="27.84" lengthAdjust="spacingAndGlyphs">Component</text><text x="311.42" y="196.45" textLength="16.42" lengthAdjust="spacingAndGlyphs">Region</text></g><polygon points="528.0,248.5 528.0,180.8 547.8,180.8 555.9,180.8 562.2,180.8 567.5,180.9 572.2,180.9 576.4,181.0 580.2,181.1 583.8,181.1 587.2,181.2 590.3,181.3 593.3,181.4 596.2,181.5 599.0,181.7 601.6,181.8 604.1,182.0 606.5,182.1 608.9,182.3 611.2,182.5 613.4,182.7 615.5,182.9 617.6,183.1 619.6,183.3 621.5,183.5 623.4,183.8 625.3,184.0 627.0,184.3 628.8,184.6 630.5,184.9 632.2,185.2 633.8,185.5 635.4,185.8 636.9,186.2 638.4,186.5 639.9,186.9 641.3,187.2 642.7,187.6 644.1,188.0 645.4,188.4 646.7,188.8 647.9,189.2 649.2,189.7 650.4,190.1 651.5,190.6 652.7,191.1 653.8,191.6 654.9,192.1 655.9,192.6 657.0,193.1 658.0,193.7 658.9,194.2 659.9,194.8 660.8,195.4 661.7,196.0 662.6,196.6 663.4,197.2 664.2,197.9 665.0,198.5 665.8,199.2 666.5,199.9 667.2,200.6 667.9,201.4 668.6,202.1 669.2,202.9 669.8,203.7 670.4,204.5 671.0,205.3 671.5,206.2 672.1,207.1 672.5,208.0 673.0,208.9 673.5,209.9 673.9,210.9 674.3,211.9 674.7,213.0 675.0,214.1 675.4,215.2 675.7,216.4 676.0,217.6 676.2,218.9 676.5,220.3 676.7,221.7 676.9,223.2 677.0,224.9 677.2,226.6 677.3,228.5 677.4,230.6 677.5,233.0 677.6,235.9 677.6,239.6 677.6,248.5" fill="#a5c9e1"/><polygon points="528.0,248.5 528.0,316.2 508.2,316.2 500.1,316.2 493.8,316.2 488.5,316.1 483.8,316.1 479.6,316.0 475.8,315.9 472.2,315.9 468.8,315.8 465.7,315.7 462.7,315.6 459.8,315.5 457.0,315.3 454.4,315.2 451.9,315.0 449.5,314.9 447.1,314.7 444.8,314.5 442.6,314.3 440.5,314.1 438.4,313.9 436.4,313.7 434.5,313.5 432.6,313.2 430.7,313.0 429.0,312.7 427.2,312.4 425.5,312.1 423.8,311.8 422.2,311.5 420.6,311.2 419.1,310.8 417.6,310.5 416.1,310.1 414.7,309.8 413.3,309.4 411.9,309.0 410.6,308.6 409.3,308.2 408.1,307.8 406.8,307.3 405.6,306.9 404.5,306.4 403.3,305.9 402.2,305.4 401.1,304.9 400.1,304.4 399.0,303.9 398.0,303.3 397.1,302.8 396.1,302.2 395.2,301.6 394.3,301.0 393.4,300.4 392.6,299.8 391.8,299.1 391.0,298.5 390.2,297.8 389.5,297.1 388.8,296.4 388.1,295.6 387.4,294.9 386.8,294.1 386.2,293.3 385.6,292.5 385.0,291.7 384.5,290.8 383.9,289.9 383.5,289.0 383.0,288.1 382.5,287.1 382.1,286.1 381.7,285.1 381.3,284.0 381.0,282.9 380.6,281.8 380.3,280.6 380.0,279.4 379.8,278.1 379.5,276.7 379.3,275.3 379.1,273.8 379.0,272.1 378.8,270.4 378.7,268.5 378.6,266.4 378.5,264.0 378.4,261.1 378.4,257.4 378.4,248.5" fill="#efa9a9"/><g stroke="#b0b0b0" stroke-opacity="0.7" stroke-width="0.5" stroke-dasharray="1.7,0.8"><line x1="378.40" y1="180.80" x2="378.40" y2="316.20"/><line x1="378.40" y1="316.20" x2="677.60" y2="316.20"/><line x1="415.80" y1="180.80" x2="415.80" y2="316.20"/><line x1="378.40" y1="299.27" x2="677.60" y2="299.27"/><line x1="453.20" y1="180.80" x2="453.20" y2="316.20"/><line x1="378.40" y1="282.35" x2="677.60" y2="282.35"/><line x1="490.60" y1="180.80" x2="490.60" y2="316.20"/><line x1="378.40" y1="265.43" x2="677.60" y2="265.43"/><line x1="528.00" y1="180.80" x2="528.00" y2="316.20"/><line x1="378.40" y1="248.50" x2="677.60" y2="248.50"/><line x1="565.40" y1="180.80" x2="565.40" y2="316.20"/><line x1="378.40" y1="231.57" x2="677.60" y2="231.57"/><line x1="602.80" y1="180.80" x2="602.80" y2="316.20"/><line x1="378.40" y1="214.65" x2="677.60" y2="214.65"/><line x1="640.20" y1="180.80" x2="640.20" y2="316.20"/><line x1="378.40" y1="197.73" x2="677.60" y2="197.73"/><line x1="677.60" y1="180.80" x2="677.60" y2="316.20"/><line x1="378.40" y1="180.80" x2="677.60" y2="180.80"/></g><line x1="378.500" y1="180.520" x2="378.500" y2="316.690" stroke="#878787" stroke-width="1"/><line x1="677.674" y1="180.520" x2="677.674" y2="316.690" stroke="#8c8c8c" stroke-width="1"/><line x1="378.000" y1="181.020" x2="678.174" y2="181.020" stroke="#787878" stroke-width="1"/><line x1="378.000" y1="316.190" x2="678.174" y2="316.190" stroke="#7d7d7d" stroke-width="1"/><g stroke="#000000" stroke-width="0.6"><line x1="378.40" y1="316.20" x2="378.40" y2="318.40"/><line x1="376.20" y1="316.20" x2="378.40" y2="316.20"/><line x1="415.80" y1="316.20" x2="415.80" y2="318.40"/><line x1="376.20" y1="299.27" x2="378.40" y2="299.27"/><line x1="453.20" y1="316.20" x2="453.20" y2="318.40"/><line x1="376.20" y1="282.35" x2="378.40" y2="282.35"/><line x1="490.60" y1="316.20" x2="490.60" y2="318.40"/><line x1="376.20" y1="265.43" x2="378.40" y2="265.43"/><line x1="528.00" y1="316.20" x2="528.00" y2="318.40"/><line x1="376.20" y1="248.50" x2="378.40" y2="248.50"/><line x1="565.40" y1="316.20" x2="565.40" y2="318.40"/><line x1="376.20" y1="231.57" x2="378.40" y2="231.57"/><line x1="602.80" y1="316.20" x2="602.80" y2="318.40"/><line x1="376.20" y1="214.65" x2="378.40" y2="214.65"/><line x1="640.20" y1="316.20" x2="640.20" y2="318.40"/><line x1="376.20" y1="197.73" x2="378.40" y2="197.73"/><line x1="677.60" y1="316.20" x2="677.60" y2="318.40"/><line x1="376.20" y1="180.80" x2="378.40" y2="180.80"/></g><g font-family='"Liberation Sans", sans-serif' font-size="6.6" fill="#262626" stroke="#262626" stroke-width="0.06"><text x="378.40" y="325.15" text-anchor="middle" textLength="18.38" lengthAdjust="spacingAndGlyphs">−1.00</text><text x="374.10" y="318.35" text-anchor="end" textLength="18.38" lengthAdjust="spacingAndGlyphs">−1.00</text><text x="415.80" y="325.15" text-anchor="middle" textLength="18.38" lengthAdjust="spacingAndGlyphs">−0.75</text><text x="374.10" y="301.42" text-anchor="end" textLength="18.38" lengthAdjust="spacingAndGlyphs">−0.75</text><text x="453.20" y="325.15" text-anchor="middle" textLength="18.38" lengthAdjust="spacingAndGlyphs">−0.50</text><text x="374.10" y="284.50" text-anchor="end" textLength="18.38" lengthAdjust="spacingAndGlyphs">−0.50</text><text x="490.60" y="325.15" text-anchor="middle" textLength="18.38" lengthAdjust="spacingAndGlyphs">−0.25</text><text x="374.10" y="267.57" text-anchor="end" textLength="18.38" lengthAdjust="spacingAndGlyphs">−0.25</text><text x="528.00" y="325.15" text-anchor="middle" textLength="13.36" lengthAdjust="spacingAndGlyphs">0.00</text><text x="374.10" y="250.65" text-anchor="end" textLength="13.36" lengthAdjust="spacingAndGlyphs">0.00</text><text x="565.40" y="325.15" text-anchor="middle" textLength="13.36" lengthAdjust="spacingAndGlyphs">0.25</text><text x="374.10" y="233.72" text-anchor="end" textLength="13.36" lengthAdjust="spacingAndGlyphs">0.25</text><text x="602.80" y="325.15" text-anchor="middle" textLength="13.36" lengthAdjust="spacingAndGlyphs">0.50</text><text x="374.10" y="216.80" text-anchor="end" textLength="13.36" lengthAdjust="spacingAndGlyphs">0.50</text><text x="640.20" y="325.15" text-anchor="middle" textLength="13.36" lengthAdjust="spacingAndGlyphs">0.75</text><text x="374.10" y="199.88" text-anchor="end" textLength="13.36" lengthAdjust="spacingAndGlyphs">0.75</text><text x="677.60" y="325.15" text-anchor="middle" textLength="13.36" lengthAdjust="spacingAndGlyphs">1.00</text><text x="374.10" y="182.95" text-anchor="end" textLength="13.36" lengthAdjust="spacingAndGlyphs">1.00</text></g><g font-family='"Liberation Sans", sans-serif' font-weight="bold" font-size="8.3" fill="#000" stroke="#000" stroke-width="0.18"><text x="400.75" y="178.00" textLength="33.7" lengthAdjust="spacingAndGlyphs">Feasible</text><text x="436.96" y="178.00" textLength="32.48" lengthAdjust="spacingAndGlyphs">Regions</text><text x="471.95" y="178.00" textLength="8.1" lengthAdjust="spacingAndGlyphs">of</text><text x="482.56" y="178.00" textLength="32.53" lengthAdjust="spacingAndGlyphs">Positive</text><text x="517.60" y="178.00" textLength="15.17" lengthAdjust="spacingAndGlyphs">and</text><text x="535.29" y="178.00" textLength="36.49" lengthAdjust="spacingAndGlyphs">Negative</text><text x="574.28" y="178.00" textLength="50.8" lengthAdjust="spacingAndGlyphs">Components</text><text x="627.60" y="178.00" textLength="8.46" lengthAdjust="spacingAndGlyphs">(q</text><text x="638.57" y="178.00" textLength="6.05" lengthAdjust="spacingAndGlyphs">=</text><text x="647.13" y="178.00" textLength="8.32" lengthAdjust="spacingAndGlyphs">4)</text></g><g transform="translate(503.80,334.40)" font-family='"Liberation Serif", serif' font-style="italic" fill="#3a3a3a"><text x="0.00" y="0" font-size="6.8" textLength="6.0" lengthAdjust="spacingAndGlyphs">R</text><text x="7.40" y="-2.5" font-size="5.0" font-style="normal" font-family='"Liberation Sans", sans-serif'>+</text><text x="6.70" y="1.3" font-size="5.0">M</text><text x="11.20" y="0" font-size="5.44">,</text><text x="13.80" y="0" font-size="6.8" textLength="5.0" lengthAdjust="spacingAndGlyphs">A</text><text x="19.70" y="-2.5" font-size="5.0" font-style="normal" font-family='"Liberation Sans", sans-serif'>+</text><text x="18.80" y="1.3" font-size="5.0">N</text><text x="23.60" y="0" font-size="5.44">,</text><text x="26.10" y="0" font-size="6.8" textLength="6.0" lengthAdjust="spacingAndGlyphs">R</text><text x="32.80" y="-2.5" font-size="5.0" font-style="normal" font-family='"Liberation Sans", sans-serif'>−</text><text x="32.80" y="1.3" font-size="5.0">M</text><text x="37.50" y="0" font-size="5.44">,</text><text x="39.90" y="0" font-size="6.8" textLength="4.8" lengthAdjust="spacingAndGlyphs">A</text><text x="45.90" y="-2.5" font-size="5.0" font-style="normal" font-family='"Liberation Sans", sans-serif'>−</text><text x="44.90" y="1.3" font-size="5.0">N</text></g><g transform="translate(352.00,272.35) rotate(-90)" font-family='"Liberation Serif", serif' font-style="italic" fill="#3a3a3a"><text x="0.00" y="0" font-size="6.8" textLength="5.0" lengthAdjust="spacingAndGlyphs">A</text><text x="5.90" y="-2.5" font-size="5.0" font-style="normal" font-family='"Liberation Sans", sans-serif'>+</text><text x="5.00" y="1.3" font-size="5.0">N</text><text x="9.80" y="0" font-size="5.44">,</text><text x="13.10" y="0" font-size="6.8" textLength="5.3" lengthAdjust="spacingAndGlyphs">S</text><text x="19.10" y="-2.5" font-size="5.0" font-style="normal" font-family='"Liberation Sans", sans-serif'>+</text><text x="18.40" y="1.3" font-size="5.0">N</text><text x="23.10" y="0" font-size="5.44">,</text><text x="26.10" y="0" font-size="6.8" textLength="5.0" lengthAdjust="spacingAndGlyphs">A</text><text x="32.10" y="-2.5" font-size="5.0" font-style="normal" font-family='"Liberation Sans", sans-serif'>−</text><text x="31.10" y="1.3" font-size="5.0">N</text><text x="35.90" y="0" font-size="5.44">,</text><text x="39.30" y="0" font-size="6.8" textLength="5.3" lengthAdjust="spacingAndGlyphs">S</text><text x="45.30" y="-2.5" font-size="5.0" font-style="normal" font-family='"Liberation Sans", sans-serif'>−</text><text x="44.60" y="1.3" font-size="5.0">N</text></g><rect x="588.30" y="183.05" width="87.0" height="15.8" rx="1.2" fill="#fff" fill-opacity="0.8" stroke="#d0d0d0" stroke-width="0.5"/><rect x="590.10" y="186.10" width="9.2" height="2.9" fill="#a5c9e1" stroke="#7aa6c8" stroke-width="0.6"/><rect x="590.10" y="193.05" width="9.2" height="2.9" fill="#efa9a9" stroke="#d98587" stroke-width="0.6"/><g font-family='"Liberation Sans", sans-serif' font-size="5.2" fill="#222" stroke="#222" stroke-width="0.08"><text x="603.70" y="189.35" textLength="18.49" lengthAdjust="spacingAndGlyphs">Positive</text><text x="623.71" y="189.35" textLength="27.84" lengthAdjust="spacingAndGlyphs">Component</text><text x="653.08" y="189.35" textLength="16.42" lengthAdjust="spacingAndGlyphs">Region</text><text x="603.70" y="196.45" textLength="21.52" lengthAdjust="spacingAndGlyphs">Negative</text><text x="626.75" y="196.45" textLength="27.84" lengthAdjust="spacingAndGlyphs">Component</text><text x="656.12" y="196.45" textLength="16.42" lengthAdjust="spacingAndGlyphs">Region</text></g></svg>
</body></html>
